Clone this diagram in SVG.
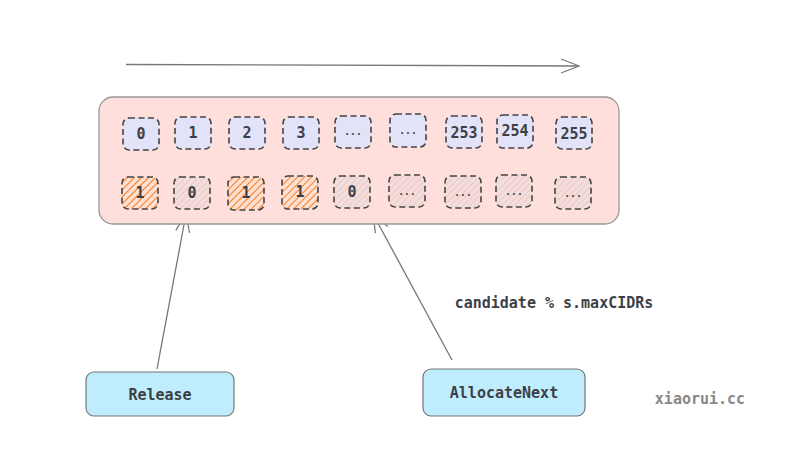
<svg xmlns="http://www.w3.org/2000/svg" width="795" height="451" viewBox="0 0 795 451">
<defs>
<pattern id="hO" width="5" height="5" patternUnits="userSpaceOnUse" patternTransform="rotate(45)">
<rect width="5" height="5" fill="#fde0d2"/>
<line x1="0" y1="0" x2="0" y2="5" stroke="#f97f22" stroke-width="2"/>
</pattern>
<pattern id="hG" width="4.5" height="4.5" patternUnits="userSpaceOnUse" patternTransform="rotate(45)">
<rect width="4.5" height="4.5" fill="#f7dcda"/>
<line x1="0" y1="0" x2="0" y2="4.5" stroke="#cbc3c3" stroke-width="1.1"/>
</pattern>
<marker id="ah" viewBox="0 0 20 20" refX="19" refY="10" markerWidth="20" markerHeight="20" markerUnits="userSpaceOnUse" orient="auto">
<path d="M1 3 L19 10 L1 17" fill="none" stroke="#777" stroke-width="1.2"/>
</marker>
<style>
.cell{stroke:#444;stroke-width:1.6;stroke-dasharray:6 3.5}
.top{fill:#e2e2f8}
.o{fill:url(#hO)}
.g{fill:url(#hG)}
.t{font-family:"DejaVu Sans Mono",monospace;font-weight:bold;font-size:15px;fill:#3d3f47;text-anchor:middle;dominant-baseline:central}
.d{font-family:"DejaVu Sans Mono",monospace;font-size:13px;fill:#3d3f47;text-anchor:middle;letter-spacing:-2px}
.lbl{font-family:"DejaVu Sans Mono",monospace;font-weight:bold;font-size:15px;fill:#3d3f47;text-anchor:middle;dominant-baseline:central}
.btn{fill:#bfedfd;stroke:#777;stroke-width:1.2}
.conn{stroke:#777;stroke-width:1.3;fill:none}
</style>
</defs>
<rect width="795" height="451" fill="#ffffff"/>
<g id="connectors">
<line class="conn" x1="126" y1="64.5" x2="579" y2="66" marker-end="url(#ah)"/>
<line class="conn" x1="157" y1="369" x2="186" y2="214" marker-end="url(#ah)"/>
<line class="conn" x1="452" y1="360" x2="373" y2="214" marker-end="url(#ah)"/>
</g>
<g id="container">
<rect x="99" y="97" width="520" height="127" rx="14" fill="#ffdfdb" stroke="#999" stroke-width="1.3"/>
</g>
<g id="row-top">
<g id="c0"><rect class="cell top" x="123" y="118" width="36" height="32" rx="6"/><text class="t" x="141" y="134">0</text></g>
<g id="c1"><rect class="cell top" x="175" y="117" width="36" height="32" rx="6"/><text class="t" x="193" y="133">1</text></g>
<g id="c2"><rect class="cell top" x="229" y="117" width="36" height="32" rx="6"/><text class="t" x="247" y="133">2</text></g>
<g id="c3"><rect class="cell top" x="283" y="117" width="36" height="32" rx="6"/><text class="t" x="301" y="133">3</text></g>
<g id="c4"><rect class="cell top" x="335" y="116" width="36" height="32" rx="6"/><text class="d" x="352" y="135">...</text></g>
<g id="c5"><rect class="cell top" x="390" y="114" width="36" height="33" rx="6"/><text class="d" x="407" y="134">...</text></g>
<g id="c253"><rect class="cell top" x="446" y="116" width="36" height="32" rx="6"/><text class="t" x="464" y="133">253</text></g>
<g id="c254"><rect class="cell top" x="497" y="115" width="36" height="33" rx="6"/><text class="t" x="515" y="131">254</text></g>
<g id="c255"><rect class="cell top" x="556" y="117" width="36" height="32" rx="6"/><text class="t" x="574" y="134">255</text></g>
</g>
<g id="row-bottom">
<g id="b0"><rect class="cell o" x="122" y="177" width="36" height="32" rx="6"/><text class="t" x="140" y="193">1</text></g>
<g id="b1"><rect class="cell g" x="174" y="177" width="36" height="32" rx="6"/><text class="t" x="192" y="193">0</text></g>
<g id="b2"><rect class="cell o" x="228" y="177" width="36" height="33" rx="6"/><text class="t" x="246" y="193">1</text></g>
<g id="b3"><rect class="cell o" x="282" y="176" width="36" height="33" rx="6"/><text class="t" x="300" y="192">1</text></g>
<g id="b4"><rect class="cell g" x="334" y="176" width="36" height="32" rx="6"/><text class="t" x="352" y="192">0</text></g>
<g id="b5"><rect class="cell g" x="389" y="175" width="36" height="32" rx="6"/><text class="d" x="406" y="195">...</text></g>
<g id="b6"><rect class="cell g" x="445" y="176" width="36" height="32" rx="6"/><text class="d" x="462" y="196">...</text></g>
<g id="b7"><rect class="cell g" x="496" y="175" width="36" height="32" rx="6"/><text class="d" x="513" y="195">...</text></g>
<g id="b8"><rect class="cell g" x="555" y="177" width="36" height="32" rx="6"/><text class="d" x="572" y="197">...</text></g>
</g>
<g id="release"><rect class="btn" x="86" y="372" width="148" height="44" rx="8"/><text class="lbl" x="160" y="394.5">Release</text></g>
<g id="allocate"><rect class="btn" x="423" y="369" width="162" height="47" rx="8"/><text class="lbl" x="504" y="393">AllocateNext</text></g>
<g id="labels">
<text class="lbl" x="554" y="303">candidate % s.maxCIDRs</text>
<text class="lbl" x="700" y="399" style="fill:#888">xiaorui.cc</text>
</g>
</svg>
